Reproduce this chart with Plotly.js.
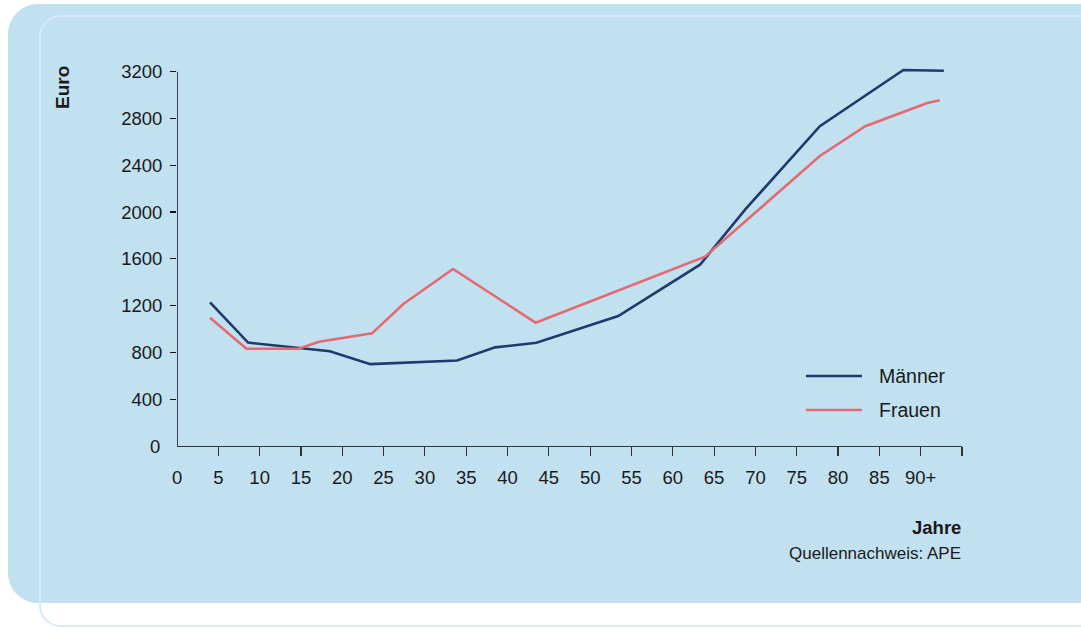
<!DOCTYPE html>
<html><head><meta charset="utf-8">
<script src="https://cdn.plot.ly/plotly-3.0.1.min.js"></script>
<style>
html,body{margin:0;padding:0;background:#fff;}
#wrap{position:relative;width:1081px;height:630px;overflow:hidden;background:#fff;}
#bg{position:absolute;left:8px;top:4px;width:1120px;height:599px;border-radius:30px;background:#c1e0f0;}
#frame{position:absolute;left:39px;top:15px;width:1120px;height:612px;border:2px solid #d5eaf6;border-radius:22px;box-sizing:border-box;}
#chart{position:absolute;left:0;top:0;width:1081px;height:630px;}
</style></head>
<body><div id="wrap"><div id="bg"></div><div id="frame"></div><div id="chart"></div></div>
<script>
// ---- data ----
const seriesNames = ["Männer", "Frauen"];
const menAge   = [4, 8.6, 18.5, 23.4, 33.9, 38.5, 43.5, 53.4, 63.3, 68.8, 77.8, 87.9, 92.8];
const menEuro  = [1228, 884, 810, 700, 731, 843, 882, 1111, 1550, 2025, 2734, 3215, 3208];
const womenAge  = [4, 8.4, 14.7, 17.2, 23.6, 27.4, 33.4, 43.4, 63.9, 77.8, 83.3, 90.8, 92.3];
const womenEuro = [1096, 831, 831, 891, 963, 1214, 1513, 1054, 1619, 2480, 2734, 2933, 2955];
const xTickVals = [5,10,15,20,25,30,35,40,45,50,55,60,65,70,75,80,85,90,95];
const xTickText = ["5","10","15","20","25","30","35","40","45","50","55","60","65","70","75","80","85","90+",""];
const yTickVals = [400,800,1200,1600,2000,2400,2800,3200];
const xTitle = "Jahre", yTitle = "Euro", source = "Quellennachweis: APE";

// ---- layout ----
const W=1081,H=630,L=177,R=119,T=60,B=184;
const pw=W-L-R, ph=H-T-B;
const px=v=>(v-L)/pw, py=v=>(H-B-v)/ph;
const navy="#213a6c", pink="#e46a72", txt="#1a1a1a";
const fam="Liberation Sans, Arial, sans-serif";
const tickFont={family:fam, size:18.5, color:txt};
const legFont={family:fam, size:19.5, color:txt};

const traces=[
 {x:menAge,y:menEuro,name:seriesNames[0],mode:"lines",line:{color:navy,width:2.6},hoverinfo:"skip"},
 {x:womenAge,y:womenEuro,name:seriesNames[1],mode:"lines",line:{color:pink,width:2.6},hoverinfo:"skip"}
];
const legendColors=[navy,pink], legendY=[376,410];
const shapes=[
 {type:"line",xref:"x",yref:"y",x0:0,x1:0,y0:0,y1:3200,line:{color:"#111",width:1.5}}
];
const annotations=[
 {xref:"x",yref:"paper",x:0,y:py(477),text:"0",showarrow:false,font:tickFont,xanchor:"center",yanchor:"middle"},
 {xref:"paper",yref:"y",x:px(162),y:0,text:"0",showarrow:false,font:tickFont,xanchor:"right",yanchor:"middle"},
 {xref:"paper",yref:"paper",x:px(963),y:py(527),text:"<b>"+xTitle+"</b>",showarrow:false,font:{family:fam,size:18.5,color:txt},xanchor:"right",yanchor:"middle"},
 {xref:"paper",yref:"paper",x:px(963),y:py(553),text:source,showarrow:false,font:{family:fam,size:17,color:txt},xanchor:"right",yanchor:"middle"},
 {xref:"paper",yref:"paper",x:px(62),y:py(88),text:"<b>"+yTitle+"</b>",textangle:-90,showarrow:false,font:{family:fam,size:19,color:txt},xanchor:"center",yanchor:"middle"}
];
seriesNames.forEach((n,i)=>{
  shapes.push({type:"line",xref:"paper",yref:"paper",x0:px(806),x1:px(862),y0:py(legendY[i]),y1:py(legendY[i]),line:{color:legendColors[i],width:2.6}});
  annotations.push({xref:"paper",yref:"paper",x:px(877),y:py(legendY[i]),text:n,showarrow:false,font:legFont,xanchor:"left",yanchor:"middle"});
});

const layout={
 width:W,height:H,margin:{l:L,r:R,t:T,b:B,pad:0},
 paper_bgcolor:"rgba(0,0,0,0)",plot_bgcolor:"rgba(0,0,0,0)",
 showlegend:false,font:tickFont,
 xaxis:{range:[0,95],tickmode:"array",tickvals:xTickVals,ticktext:xTickText,ticks:"outside",ticklen:9,tickwidth:1.2,tickcolor:"#333",
   showline:true,linecolor:"#333",linewidth:1.2,showgrid:false,zeroline:false,fixedrange:true,ticklabelstandoff:6,tickfont:tickFont},
 yaxis:{range:[0,3300],tickmode:"array",tickvals:yTickVals,ticks:"outside",ticklen:6,tickwidth:1.2,tickcolor:"#111",
   showline:false,showgrid:false,zeroline:false,fixedrange:true,ticklabelstandoff:4,tickfont:tickFont},
 shapes:shapes,annotations:annotations
};
Plotly.newPlot("chart",traces,layout,{staticPlot:true,displayModeBar:false});
</script></body></html>
